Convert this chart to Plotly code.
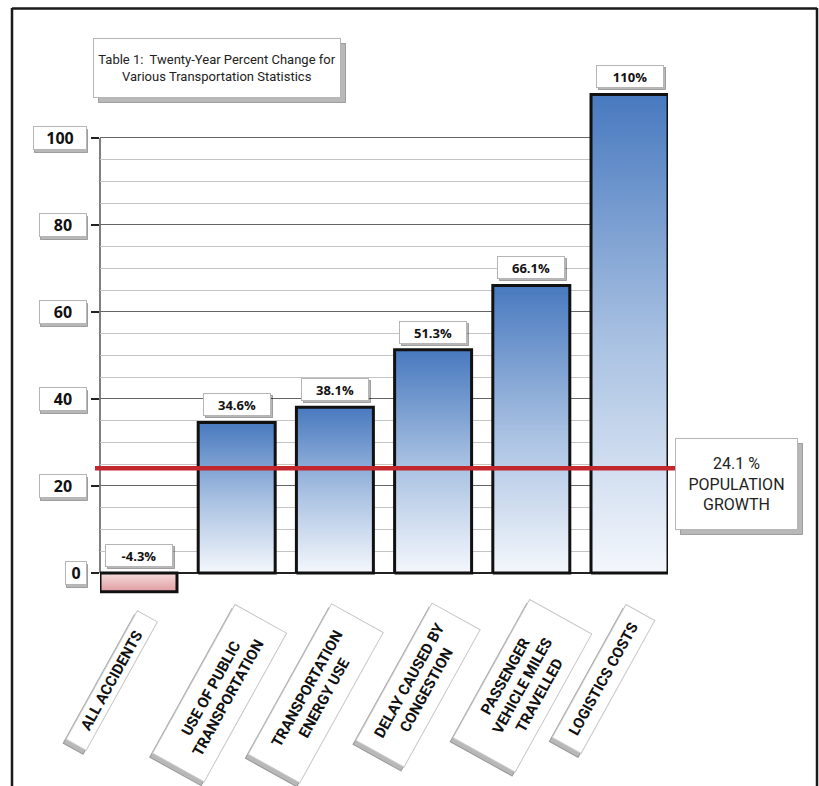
import plotly.graph_objects as go

# ---------------- data ----------------
CATEGORIES = [
    "ALL ACCIDENTS",
    "USE OF PUBLIC<br>TRANSPORTATION",
    "TRANSPORTATION<br>ENERGY USE",
    "DELAY CAUSED BY<br>CONGESTION",
    "PASSENGER<br>VEHICLE MILES<br>TRAVELLED",
    "LOGISTICS COSTS",
]
VALUES = [-4.3, 34.6, 38.1, 51.3, 66.1, 110]
VALUE_LABELS = ["-4.3%", "34.6%", "38.1%", "51.3%", "66.1%", "110%"]
Y_TICKS = [0, 20, 40, 60, 80, 100]
Y_MINOR = list(range(0, 101, 5))
POPULATION_GROWTH = 24.1
POPULATION_TEXT = "24.1 %<br>POPULATION<br>GROWTH"
TITLE = "Table 1:  Twenty-Year Percent Change for<br>Various Transportation Statistics"

# ---------------- styles / layout helpers ----------------
W, H = 819, 786
ML, MR, MT, MB = 100, 151, 86, 189
PW, PH = W - ML - MR, H - MT - MB
NARROW = "Roboto, Liberation Sans, sans-serif"
BOLD = "Open Sans, Arial, sans-serif"
BAR_HALF = 0.392
CAT_SIZES = [(148, 24), (171, 60), (173, 60), (158, 56), (159, 72), (153, 34)]
CAT_XSHIFT = [-27, -17, -19, -15, -9, -26]
CAT_YPIX = [681, 693, 693, 685, 686, 679]


def px(x):
    return (x - ML) / PW


def py(y):
    return (H - MB - y) / PH


annotations = []


def boxed(text, x, y, xref, yref, w, h, font, pad=4, sdx=3, sdy=-3,
          border="#b5b5b5", shadow="rgba(0,0,0,0.28)", angle=0,
          xanchor="center", yanchor="middle", xshift=0, yshift=0):
    base = dict(x=x, y=y, xref=xref, yref=yref, showarrow=False,
                width=w, height=h, borderpad=pad, textangle=angle,
                xanchor=xanchor, yanchor=yanchor, align="center", valign="middle")
    annotations.append(dict(base, text=" ", bgcolor=shadow, bordercolor=shadow, borderwidth=1,
                            font=font, xshift=xshift + sdx, yshift=yshift + sdy))
    annotations.append(dict(base, text=text, bgcolor="white", bordercolor=border, borderwidth=1,
                            font=font, xshift=xshift, yshift=yshift))


fig = go.Figure()

# bars as gradient-filled polygons
for i, v in enumerate(VALUES):
    x0, x1 = i - BAR_HALF, i + BAR_HALF
    lo, hi = min(0, v), max(0, v)
    if v >= 0:
        cs = [[0, "#f4f7fc"], [0.5, "#a6bfe1"], [1, "#4879bf"]]
    else:
        cs = [[0, "#e09ca1"], [1, "#f6dcdc"]]
    fig.add_trace(go.Scatter(
        x=[x0, x0, x1, x1, x0], y=[0, v, v, 0, 0], mode="lines",
        fill="toself",
        fillgradient=dict(type="vertical", colorscale=cs, start=lo, stop=hi),
        line=dict(color="#111", width=3),
        hoverinfo="skip", showlegend=False,
    ))

# value labels
for i, (v, lab) in enumerate(zip(VALUES, VALUE_LABELS)):
    boxed(f"<b>{lab}</b>", i, max(v, 0), "x", "y", 60, 15,
          dict(family=BOLD, size=13, color="#111"), pad=3, sdx=2, sdy=-2,
          yanchor="bottom", yshift=6)

# y tick labels
for t in Y_TICKS:
    s = str(t)
    w = {1: 12, 2: 38, 3: 44}[len(s)]
    boxed(f"<b>{s}</b>", px(87), t, "paper", "y", w, 14,
          dict(family=BOLD, size=16, color="#111"), pad=4, sdx=1, sdy=-3,
          xanchor="right")

# category labels
for i, (c, (w, h), xs, yp) in enumerate(zip(CATEGORIES, CAT_SIZES, CAT_XSHIFT, CAT_YPIX)):
    boxed(f"<b>{c}</b>", i, py(yp), "x", "paper", w - 8, h - 8,
          dict(family=NARROW, size=15, color="#111"), pad=3, sdx=-3, sdy=-4,
          angle=-61, xshift=xs, border="#c8c8c8")

# title box
boxed(TITLE, px(216.5), py(68), "paper", "paper", 238, 50,
      dict(family=NARROW, size=13, color="#222"), pad=4, sdx=5, sdy=-5)

# population growth box
boxed(POPULATION_TEXT, px(736.5), py(484), "paper", "paper", 113, 82,
      dict(family=NARROW, size=16, color="#222"), pad=4, sdx=5, sdy=-5)

shapes = [
    # y axis line
    dict(type="line", xref="paper", yref="y", x0=0, x1=0, y0=0, y1=100,
         line=dict(color="#555", width=1.5), layer="below"),
    # population growth line
    dict(type="line", xref="paper", yref="y", x0=px(95), x1=px(676),
         y0=POPULATION_GROWTH, y1=POPULATION_GROWTH,
         line=dict(color="#c1272d", width=4.5), layer="above"),
    # frame
    dict(type="line", xref="paper", yref="paper", x0=px(12), x1=px(12), y0=py(8), y1=py(790),
         line=dict(color="#1a1a1a", width=2.5)),
    dict(type="line", xref="paper", yref="paper", x0=px(12), x1=px(817), y0=py(8.5), y1=py(8.5),
         line=dict(color="#1a1a1a", width=2.5)),
    dict(type="line", xref="paper", yref="paper", x0=px(817), x1=px(817), y0=py(8), y1=py(790),
         line=dict(color="#1a1a1a", width=2.5)),
]

fig.update_layout(
    width=W, height=H,
    margin=dict(l=ML, r=MR, t=MT, b=MB, pad=0),
    paper_bgcolor="white", plot_bgcolor="white",
    showlegend=False,
    xaxis=dict(range=[-BAR_HALF, len(VALUES) - 1 + BAR_HALF], visible=False, fixedrange=True),
    yaxis=dict(
        range=[-5.52, 111.95], tickvals=Y_TICKS, ticks="outside", ticklen=8,
        tickwidth=2, tickcolor="#222", showticklabels=False,
        showgrid=True, gridcolor="#666", gridwidth=1,
        minor=dict(tickvals=Y_MINOR, showgrid=True, gridcolor="#c4c4c4", gridwidth=1, ticks=""),
        zeroline=True, zerolinecolor="#222", zerolinewidth=1.5, showline=False,
        fixedrange=True,
    ),
    annotations=annotations,
    shapes=shapes,
)

fig.write_html("out.html")
